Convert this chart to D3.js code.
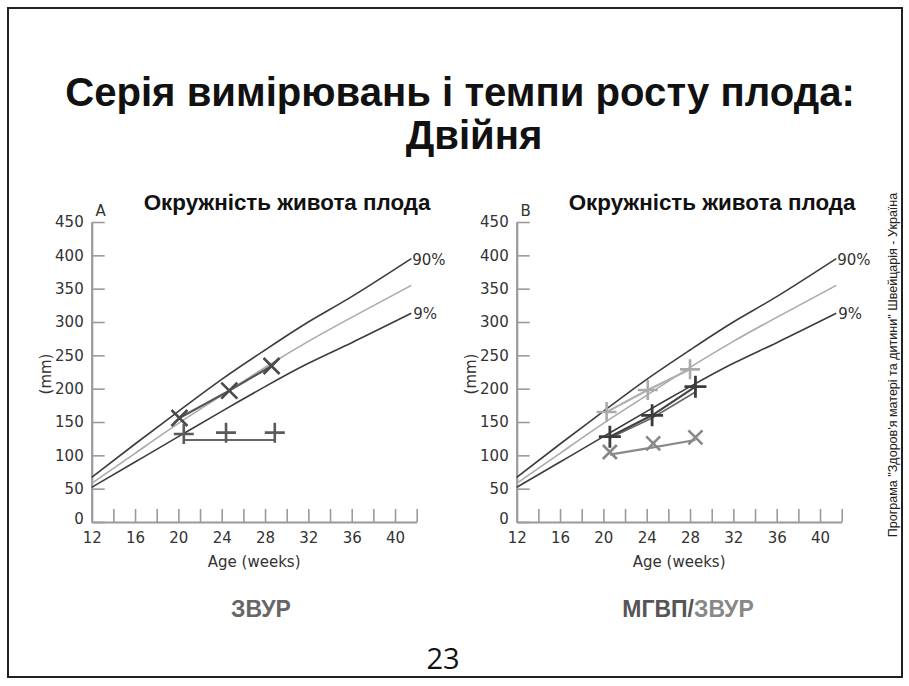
<!DOCTYPE html>
<html><head><meta charset="utf-8">
<script src="https://cdn.jsdelivr.net/npm/d3@7"></script>
<style>body{margin:0;background:#fff}svg{display:block}</style>
</head><body>
<svg id="c" width="909" height="686"></svg>
<script>
// ---- data ----
const curveWeeks = [12, 16, 20, 24, 28, 32, 36, 41.5];
const p90 = [67, 117, 166, 214, 258, 300, 338, 395];
const p50 = [58, 103, 148, 190, 232, 271, 307, 355];
const p9  = [52, 90, 128, 166, 203, 238, 269, 313];

const xTicks = [14,16,18,20,22,24,26,28,30,32,34,36,38,40,42];
const xLabels = [12,16,20,24,28,32,36,40];
const yTicks = [0,50,100,150,200,250,300,350,400,450];

// Panel A
const aXWeeks = [20.1, 24.7, 28.6];
const aXVals  = [156, 197, 234];
const aPWeeks = [20.5, 24.4, 28.9];
const aPVals  = [132, 134, 134];
const aPLine  = [123, 123, 123];

// Panel B
const bLightWeeks = [20.3, 24.1, 28.0];
const bLightVals  = [165, 198, 229];
const bDarkWeeks  = [20.6, 24.5, 28.5];
const bDarkVals   = [128, 160, 203];
const bDarkLine2  = [126, 156, 195];
const bMidWeeks   = [20.6, 24.6, 28.5];
const bMidVals    = [105, 118, 127];
const bMidLine    = [101, 112, 123];

const svg = d3.select("#c");
svg.append("rect").attr("x",0).attr("y",0).attr("width",909).attr("height",686).attr("fill","#fff");
svg.append("rect").attr("x",8).attr("y",8).attr("width",894).attr("height",669)
  .attr("fill","none").attr("stroke","#222").attr("stroke-width",2);

function fit(t, w){
  let fs = parseFloat(t.attr("font-size"));
  const L = t.node().getComputedTextLength();
  t.attr("font-size", fs * w / L);
}

// title
const t1 = svg.append("text").attr("x",460).attr("y",106).attr("text-anchor","middle")
  .attr("font-family","Liberation Sans, Arial, sans-serif").attr("font-weight","bold")
  .attr("font-size",34).attr("fill","#111").text("Серія вимірювань і темпи росту плода:");
fit(t1, 790);
const t2 = svg.append("text").attr("x",474).attr("y",149).attr("text-anchor","middle")
  .attr("font-family","Liberation Sans, Arial, sans-serif").attr("font-weight","bold")
  .attr("font-size",t1.attr("font-size")).attr("fill","#111").text("Двійня");

const y = d3.scaleLinear().domain([0,450]).range([522,222]);
const tickFont = "DejaVu Sans, sans-serif";

function panel(x0, letter){
  const x = d3.scaleLinear().domain([12,42]).range([x0, x0+325]);
  const g = svg.append("g");
  const xa = g.append("g").attr("transform","translate(0,522)")
    .call(d3.axisBottom(x).tickValues(xTicks).tickSize(-13).tickSizeOuter(0).tickFormat(""));
  xa.selectAll("path,line").attr("stroke","#9a9a9a").attr("stroke-width",1.6);
  xa.select(".domain").attr("stroke-width",2.2);
  const xl = g.append("g").attr("transform","translate(0,522)")
    .call(d3.axisBottom(x).tickValues(xLabels).tickSize(0).tickPadding(10));
  xl.select(".domain").remove();
  xl.selectAll("text").attr("font-family",tickFont).attr("font-size",15).attr("fill","#333");

  const ya = g.append("g").attr("transform",`translate(${x0},0)`)
    .call(d3.axisLeft(y).tickValues(yTicks).tickSize(-13).tickSizeOuter(0).tickPadding(8));
  ya.selectAll("path,line").attr("stroke","#9a9a9a").attr("stroke-width",1.6);
  ya.select(".domain").attr("stroke-width",2.2);
  ya.selectAll("text").attr("font-family",tickFont).attr("font-size",15).attr("fill","#333");
  ya.selectAll(".tick").filter(d=>d===0).select("text").attr("dy","0.1em");

  g.append("text").attr("x",x(27)).attr("y",567).attr("text-anchor","middle")
    .attr("font-family",tickFont).attr("font-size",15).attr("fill","#333").text("Age (weeks)");
  g.append("text").attr("transform",`translate(${x0-41},${y(222)}) rotate(-90)`)
    .attr("text-anchor","middle").attr("font-family",tickFont).attr("font-size",15).attr("fill","#333").text("(mm)");
  g.append("text").attr("x",x0+9).attr("y",216).attr("text-anchor","middle")
    .attr("font-family",tickFont).attr("font-size",15).attr("fill","#333").text(letter);
  const pt = g.append("text").attr("x",x0+52).attr("y",210)
    .attr("font-family","Liberation Sans, Arial, sans-serif").attr("font-weight","bold")
    .attr("font-size",19).attr("fill","#111").text("Окружність живота плода");
  fit(pt, 287);

  const line = d3.line().x(d=>x(d[0])).y(d=>y(d[1])).curve(d3.curveNatural);
  const zip = (a,b)=>a.map((v,i)=>[v,b[i]]);
  g.append("path").attr("d",line(zip(curveWeeks,p50))).attr("fill","none").attr("stroke","#aaa").attr("stroke-width",1.6);
  g.append("path").attr("d",line(zip(curveWeeks,p90))).attr("fill","none").attr("stroke","#3c3c3c").attr("stroke-width",1.6);
  g.append("path").attr("d",line(zip(curveWeeks,p9))).attr("fill","none").attr("stroke","#3c3c3c").attr("stroke-width",1.6);
  const last = curveWeeks.length-1;
  g.append("text").attr("x",x(curveWeeks[last])+1).attr("y",y(p90[last])+6)
    .attr("font-family",tickFont).attr("font-size",15).attr("fill","#333").text("90%");
  g.append("text").attr("x",x(curveWeeks[last])+2).attr("y",y(p9[last])+6)
    .attr("font-family",tickFont).attr("font-size",15).attr("fill","#333").text("9%");
  return {g, x, line:d3.line().x(d=>x(d[0])).y(d=>y(d[1])), zip};
}

function plus(g, x, weeks, vals, r, color, sw){
  weeks.forEach((w,i)=>{
    const cx=x(w), cy=y(vals[i]);
    g.append("path").attr("d",`M${cx-r},${cy}H${cx+r}M${cx},${cy-r}V${cy+r}`)
      .attr("stroke",color).attr("stroke-width",sw).attr("fill","none");
  });
}
function cross(g, x, weeks, vals, r, color, sw){
  weeks.forEach((w,i)=>{
    const cx=x(w), cy=y(vals[i]);
    g.append("path").attr("d",`M${cx-r},${cy-r}L${cx+r},${cy+r}M${cx-r},${cy+r}L${cx+r},${cy-r}`)
      .attr("stroke",color).attr("stroke-width",sw).attr("fill","none");
  });
}

const A = panel(91.7, "A");
A.g.append("path").attr("d",A.line(A.zip(aXWeeks,aXVals))).attr("fill","none").attr("stroke","#555").attr("stroke-width",2.2);
cross(A.g, A.x, aXWeeks, aXVals, 8, "#4a4a4a", 2.6);
A.g.append("path").attr("d",A.line(A.zip(aPWeeks,aPLine))).attr("fill","none").attr("stroke","#666").attr("stroke-width",2.2);
plus(A.g, A.x, aPWeeks, aPVals, 10, "#5a5a5a", 2.6);

const B = panel(516.7, "B");
B.g.append("path").attr("d",B.line(B.zip(bLightWeeks,bLightVals))).attr("fill","none").attr("stroke","#b0b0b0").attr("stroke-width",2.2);
plus(B.g, B.x, bLightWeeks, bLightVals, 10, "#aaa", 2.6);
B.g.append("path").attr("d",B.line(B.zip(bDarkWeeks,bDarkLine2))).attr("fill","none").attr("stroke","#666").attr("stroke-width",1.6);
B.g.append("path").attr("d",B.line(B.zip(bDarkWeeks,bDarkVals))).attr("fill","none").attr("stroke","#444").attr("stroke-width",2.2);
plus(B.g, B.x, bDarkWeeks, bDarkVals, 11, "#3c3c3c", 2.8);
B.g.append("path").attr("d",B.line(B.zip(bMidWeeks,bMidLine))).attr("fill","none").attr("stroke","#8a8a8a").attr("stroke-width",2.2);
cross(B.g, B.x, bMidWeeks, bMidVals, 7, "#888", 2.6);

// bottom labels
const bf = "Liberation Sans, Arial, sans-serif";
svg.append("text").attr("x",261).attr("y",617).attr("text-anchor","middle").attr("font-family",bf)
  .attr("font-weight","bold").attr("font-size",23).attr("fill","#666").text("ЗВУР");
const bl = svg.append("text").attr("x",688).attr("y",617).attr("text-anchor","middle").attr("font-family",bf)
  .attr("font-weight","bold").attr("font-size",23);
bl.append("tspan").attr("fill","#555").text("МГВП/");
bl.append("tspan").attr("fill","#888").text("ЗВУР");

svg.append("text").attr("x",443).attr("y",669).attr("text-anchor","middle").attr("font-family","Open Sans, sans-serif")
  .attr("font-size",29).attr("fill","#111").text("23");

const vt = svg.append("text").attr("transform","translate(897,365) rotate(-90)").attr("text-anchor","middle")
  .attr("font-family",bf).attr("font-size",11).attr("fill","#222")
  .text("Програма \"Здоров'я матері та дитини\" Швейцарія - Україна");
fit(vt, 345);
</script>
</body></html>
